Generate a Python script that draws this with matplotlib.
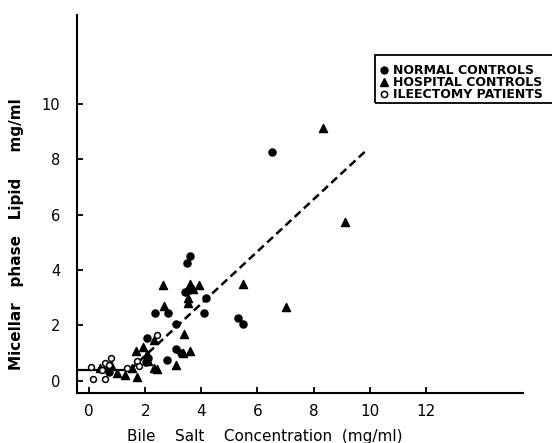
import matplotlib
matplotlib.use("Agg")
import matplotlib.pyplot as plt
from matplotlib.lines import Line2D
from matplotlib.patches import Rectangle

# bile salt (mg/ml), micellar lipid (mg/ml)
normal_x = [0.63, 0.70, 2.03, 2.10, 2.08, 2.35, 2.80, 2.79, 3.10, 3.10, 3.28,
            3.42, 3.48, 3.60, 3.55, 4.10, 4.17, 5.32, 5.49, 6.52]
normal_y = [0.50, 0.32, 0.66, 0.80, 1.55, 2.45, 2.43, 0.74, 2.06, 1.14, 0.98,
            3.19, 4.24, 4.50, 3.28, 2.45, 2.97, 2.26, 2.06, 8.27]

hospital_x = [0.39, 0.77, 1.01, 1.28, 1.52, 1.72, 1.67, 1.91, 2.05, 2.11, 2.30,
              2.41, 2.33, 2.62, 2.68, 3.10, 3.36, 3.39, 3.60, 3.52, 3.52, 3.60,
              3.69, 3.93, 5.49, 7.00, 8.32, 9.12]
hospital_y = [0.44, 0.57, 0.26, 0.20, 0.44, 0.14, 1.08, 1.22, 0.95, 0.70, 0.45,
              0.40, 1.46, 3.45, 2.70, 0.56, 1.00, 1.68, 1.08, 2.98, 2.79, 3.50,
              3.30, 3.45, 3.48, 2.65, 9.12, 5.74]

ileectomy_x = [0.07, 0.15, 0.55, 0.57, 0.77, 0.72, 0.45, 1.34, 1.70, 1.78, 2.43]
ileectomy_y = [0.50, 0.05, 0.05, 0.62, 0.83, 0.58, 0.38, 0.44, 0.72, 0.52, 1.66]

# regression line: flat start then dashed fit
flat_x = [-0.43, 1.45]
flat_y = [0.38, 0.38]
fit_x = [1.45, 9.83]
fit_y = [0.38, 8.28]

x_ticks = [0, 2, 4, 6, 8, 10, 12]
y_ticks = [0, 2, 4, 6, 8, 10]

legend_labels = ["NORMAL CONTROLS", "HOSPITAL CONTROLS", "ILEECTOMY PATIENTS"]

W, H = 552, 443
fig = plt.figure(figsize=(W / 100, H / 100), dpi=100)
ax = fig.add_axes([77 / W, 1 - 393 / H, 446 / W, 378 / H])

ax.plot(flat_x, flat_y, color="black", linewidth=1.6, solid_capstyle="butt")
ax.plot(fit_x, fit_y, color="black", linewidth=1.8, dashes=(3.2, 1.8))

ax.scatter(normal_x, normal_y, s=26, marker="o", color="black", zorder=3)
ax.scatter(hospital_x, hospital_y, s=34, marker="^", color="black", zorder=3)
ax.scatter(ileectomy_x, ileectomy_y, s=18, marker="o", facecolor="white",
           edgecolor="black", linewidth=1.1, zorder=4)

ax.set_xlim(-0.43, 15.46)
ax.set_ylim(-0.45, 13.22)
ax.spines["top"].set_visible(False)
ax.spines["right"].set_visible(False)
for s in ("left", "bottom"):
    ax.spines[s].set_linewidth(1.5)

ax.set_xticks(x_ticks)
ax.set_yticks(y_ticks)
ax.tick_params(axis="x", direction="in", length=4, width=1.3, pad=8,
               labelsize=11)
ax.tick_params(axis="y", direction="in", length=4, width=1.3, pad=12,
               labelsize=10.5)

fig.text(265 / W, 1 - 436 / H, "Bile    Salt    Concentration  (mg/ml)",
         ha="center", va="center", fontsize=11)
fig.text(17 / W, 1 - 234 / H, "Micellar   phase   Lipid     mg/ml",
         ha="center", va="center", rotation=90, fontsize=11,
         fontweight="bold")

# legend box, running off the right edge as in the original
fig.patches.append(Rectangle((375 / W, 1 - 103 / H), 190 / W, 48 / H,
                             transform=fig.transFigure, fill=False,
                             edgecolor="black", linewidth=1.3))
row_y = [70, 82, 94]
styles = [dict(marker="o", color="black", markersize=5),
          dict(marker="^", color="black", markersize=5.5),
          dict(marker="o", markerfacecolor="white", markeredgecolor="black",
               markersize=4.5, markeredgewidth=1.1)]
for lab, ry, st in zip(legend_labels, row_y, styles):
    fig.lines.append(Line2D([384 / W], [1 - ry / H], linestyle="none",
                            transform=fig.transFigure, **st))
    fig.text(393 / W, 1 - ry / H, lab, ha="left", va="center",
             fontsize=9, fontweight="bold")

fig.savefig("out.png", dpi=100)
plt.close(fig)
